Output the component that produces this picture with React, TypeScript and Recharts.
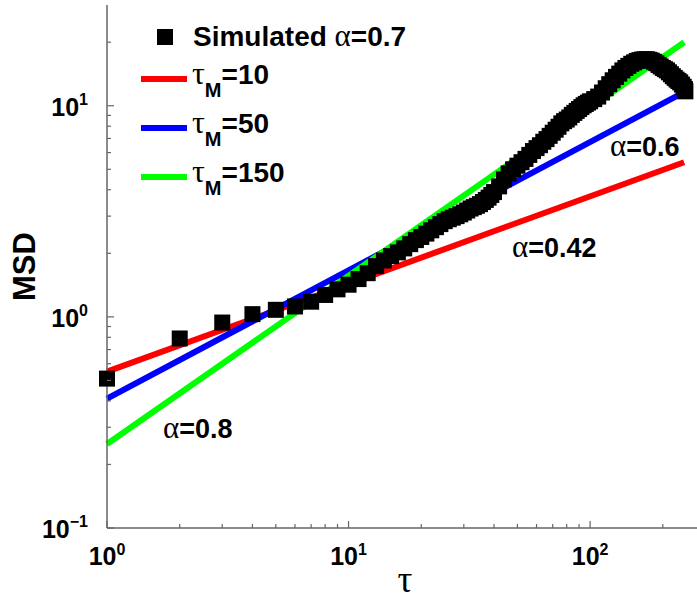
import React from 'react';
import { ComposedChart, Scatter, Line, XAxis, YAxis, Legend } from 'recharts';

// ---- data ----
const simTau = [
  1, 2, 3, 4, 5, 6, 7, 8, 9, 10, 11, 12, 13, 14, 15, 16, 17, 18, 19, 20,
  21, 22, 23, 24, 25, 26, 27, 28, 29, 30, 31, 32, 33, 34, 35, 36, 37, 38, 39, 40,
  42, 44, 46, 48, 50, 52, 54, 56, 58, 60, 62, 64, 66, 68, 70, 72, 74, 76, 78, 80,
  82, 84, 86, 88, 90, 92, 94, 96, 98, 100,
  104, 108, 112, 116, 120, 124, 128, 132, 136, 140, 144, 148, 152, 156, 160, 164, 168, 172, 176, 180,
  184, 188, 192, 196, 200, 204, 208, 212, 216, 220, 224, 228, 232, 236, 240, 244, 247, 248,
];
const simMSD = [
  0.51, 0.79, 0.94, 1.03, 1.08, 1.12, 1.18, 1.27, 1.35, 1.42, 1.51, 1.61, 1.74, 1.85, 1.94, 2.02, 2.11, 2.21, 2.31, 2.39,
  2.48, 2.57, 2.66, 2.75, 2.84, 2.9, 2.95, 3.0, 3.06, 3.12, 3.19, 3.26, 3.31, 3.36, 3.42, 3.5, 3.58, 3.67, 3.78, 3.9,
  4.15, 4.48, 4.78, 5.0, 5.2, 5.4, 5.6, 5.85, 6.1, 6.3, 6.5, 6.75, 6.95, 7.2, 7.45, 7.7, 7.95, 8.25, 8.45, 8.6,
  8.8, 9.05, 9.25, 9.45, 9.65, 9.85, 10.05, 10.2, 10.35, 10.5,
  10.75, 11.05, 11.55, 12.1, 12.65, 13.2, 13.7, 14.2, 14.7, 15.1, 15.45, 15.8, 16.05, 16.3, 16.45, 16.55, 16.6, 16.6, 16.5, 16.35,
  16.15, 15.9, 15.6, 15.35, 15.1, 14.9, 14.7, 14.4, 14.1, 13.8, 13.55, 13.3, 13.1, 12.9, 12.6, 12.3, 12.0, 11.7,
];

const fitTau = [1, 245];
const fitM10 = [0.55, 5.4];
const fitM50 = [0.41, 11.6];
const fitM150 = [0.25, 20];

const xTicks = [1, 2, 3, 4, 5, 6, 7, 8, 9, 10, 20, 30, 40, 50, 60, 70, 80, 90, 100, 200];
const yTicks = [0.1, 0.2, 0.3, 0.4, 0.5, 0.6, 0.7, 0.8, 0.9, 1, 2, 3, 4, 5, 6, 7, 8, 9, 10, 20];

const seriesNames = ['Simulated α=0.7', 'τ_M=10', 'τ_M=50', 'τ_M=150'];
const slopeLabels = ['0.6', '0.42', '0.8'];

const simData = simTau.map((x, i) => ({ x, y: simMSD[i] }));
const mk = (ys: number[]) => fitTau.map((x, i) => ({ x, y: ys[i] }));

const SANS = '"Liberation Sans", Arial, Helvetica, sans-serif';
const SERIF = '"Liberation Serif", "Times New Roman", serif';
const AXIS = '#666';

const isDecade = (v: number) => Math.abs(Math.log10(v) - Math.round(Math.log10(v))) < 1e-9;
const expText = (v: number) => {
  const e = Math.round(Math.log10(v));
  return e < 0 ? '\u2212' + -e : String(e);
};

const YTick = (props: any) => {
  const { x, y, payload } = props;
  const v = payload.value;
  const major = isDecade(v);
  return (
    <g>
      <line x1={x} x2={x + (major ? 7 : 4)} y1={y} y2={y} stroke={AXIS} strokeWidth={1.2} />
      {major && (
        <text x={x - 19} y={y + 10} textAnchor="end" fontFamily={SANS} fontWeight="bold" fontSize={25} fill="#000">
          10<tspan dy={-11} fontSize={16}>{expText(v)}</tspan>
        </text>
      )}
    </g>
  );
};

const XTick = (props: any) => {
  const { x, y, payload } = props;
  const v = payload.value;
  const major = isDecade(v);
  return (
    <g>
      <line x1={x} x2={x} y1={y} y2={y - (major ? 7 : 4)} stroke={AXIS} strokeWidth={1.2} />
      {major && (
        <text x={x} y={y + 37} textAnchor="middle" fontFamily={SANS} fontWeight="bold" fontSize={25} fill="#000">
          10<tspan dy={-10} fontSize={16}>{expText(v)}</tspan>
        </text>
      )}
    </g>
  );
};

const YLabel = (props: any) => {
  const vb = props.viewBox || { x: 0, y: 5, width: 107, height: 523 };
  const cy = vb.y + vb.height / 2;
  return (
    <text x={35} y={cy} transform={`rotate(-90 35 ${cy})`} textAnchor="middle" fontFamily={SANS} fontWeight="bold" fontSize={31} fill="#000">
      MSD
    </text>
  );
};

const XLabel = (props: any) => {
  const vb = props.viewBox || { x: 107, y: 528, width: 590, height: 73 };
  const cx = vb.x + vb.width / 2 + 3;
  return (
    <text x={cx} y={vb.y + 64} textAnchor="middle" fontFamily={SERIF} fontSize={37} fill="#000">
      τ
    </text>
  );
};

const Square = (props: any) => {
  const { cx, cy } = props;
  if (cx == null || cy == null) return null;
  return <rect x={cx - 8} y={cy - 8} width={16} height={16} fill="#000" />;
};

const renderLegend = (props: any) => {
  const payload: any[] = props.payload || [];
  const items = seriesNames.map((n) => payload.find((p) => p.value === n)).filter(Boolean);
  const rowY = [37, 79, 128, 177];
  return (
    <svg width={320} height={200} style={{ overflow: 'visible' }}>
      {items.map((it: any, i: number) => {
        const name: string = it.value;
        const cy = rowY[i];
        if (name.startsWith('Simulated')) {
          const [a, b] = name.split('α');
          return (
            <g key={name}>
              <rect x={27} y={cy - 8} width={16} height={16} fill="#000" />
              <text x={63} y={cy + 9} fontFamily={SANS} fontWeight="bold" fontSize={28} fill="#000">
                {a}
                <tspan fontFamily={SERIF} fontWeight="normal" fontSize={31}>α</tspan>
                {b}
              </text>
            </g>
          );
        }
        const m = name.match(/^τ_M(=.*)$/);
        const rest = m ? m[1] : name;
        return (
          <g key={name}>
            <line x1={11} x2={57} y1={cy} y2={cy} stroke={it.color} strokeWidth={6} />
            <text x={62} y={cy + 5} fontFamily={SANS} fontWeight="bold" fontSize={28} fill="#000">
              <tspan fontFamily={SERIF} fontWeight="normal" fontSize={32}>τ</tspan>
              <tspan dy={13} fontSize={20}>M</tspan>
              <tspan dy={-13}>{rest}</tspan>
            </text>
          </g>
        );
      })}
    </svg>
  );
};

const Slope = ({ x, y, v }: { x: number; y: number; v: string }) => (
  <text x={x} y={y} fontFamily={SANS} fontWeight="bold" fontSize={27} fill="#000">
    <tspan fontFamily={SERIF} fontWeight="normal" fontSize={31}>α</tspan>={v}
  </text>
);

export default function App() {
  return (
    <div style={{ position: 'absolute', left: 0, top: 0, width: 697, height: 601, overflow: 'hidden', background: '#fff' }}>
      <ComposedChart width={697} height={601} margin={{ top: 5, right: 0, bottom: 0, left: 0 }}>
        <XAxis
          dataKey="x"
          type="number"
          scale="log"
          domain={[1, 277]}
          ticks={xTicks}
          interval={0}
          height={73}
          tickSize={0}
          tickMargin={0}
          tickLine={false}
          tick={<XTick />}
          axisLine={{ stroke: AXIS, strokeWidth: 1.5 }}
          label={<XLabel />}
        />
        <YAxis
          type="number"
          scale="log"
          domain={[0.1, 30]}
          ticks={yTicks}
          interval={0}
          width={107}
          tickSize={0}
          tickMargin={0}
          tickLine={false}
          tick={<YTick />}
          axisLine={{ stroke: AXIS, strokeWidth: 1.5 }}
          label={<YLabel />}
        />
        <Legend
          layout="vertical"
          align="center"
          verticalAlign="middle"
          content={renderLegend}
          wrapperStyle={{ left: 130, top: 0, width: 320, height: 200 }}
        />
        <Scatter name={seriesNames[0]} data={simData} dataKey="y" fill="#000" legendType="square" shape={<Square />} isAnimationActive={false} />
        <Line name={seriesNames[1]} data={mk(fitM10)} dataKey="y" stroke="#ff0000" strokeWidth={6} dot={false} legendType="line" isAnimationActive={false} />
        <Line name={seriesNames[2]} data={mk(fitM50)} dataKey="y" stroke="#0000ff" strokeWidth={6} dot={false} legendType="line" isAnimationActive={false} />
        <Line name={seriesNames[3]} data={mk(fitM150)} dataKey="y" stroke="#00ff00" strokeWidth={6} dot={false} legendType="line" isAnimationActive={false} />
      </ComposedChart>
      <svg width={697} height={601} style={{ position: 'absolute', left: 0, top: 0, pointerEvents: 'none' }}>
        <Slope x={610} y={156} v={slopeLabels[0]} />
        <Slope x={512} y={257} v={slopeLabels[1]} />
        <Slope x={163} y={438} v={slopeLabels[2]} />
      </svg>
    </div>
  );
}
